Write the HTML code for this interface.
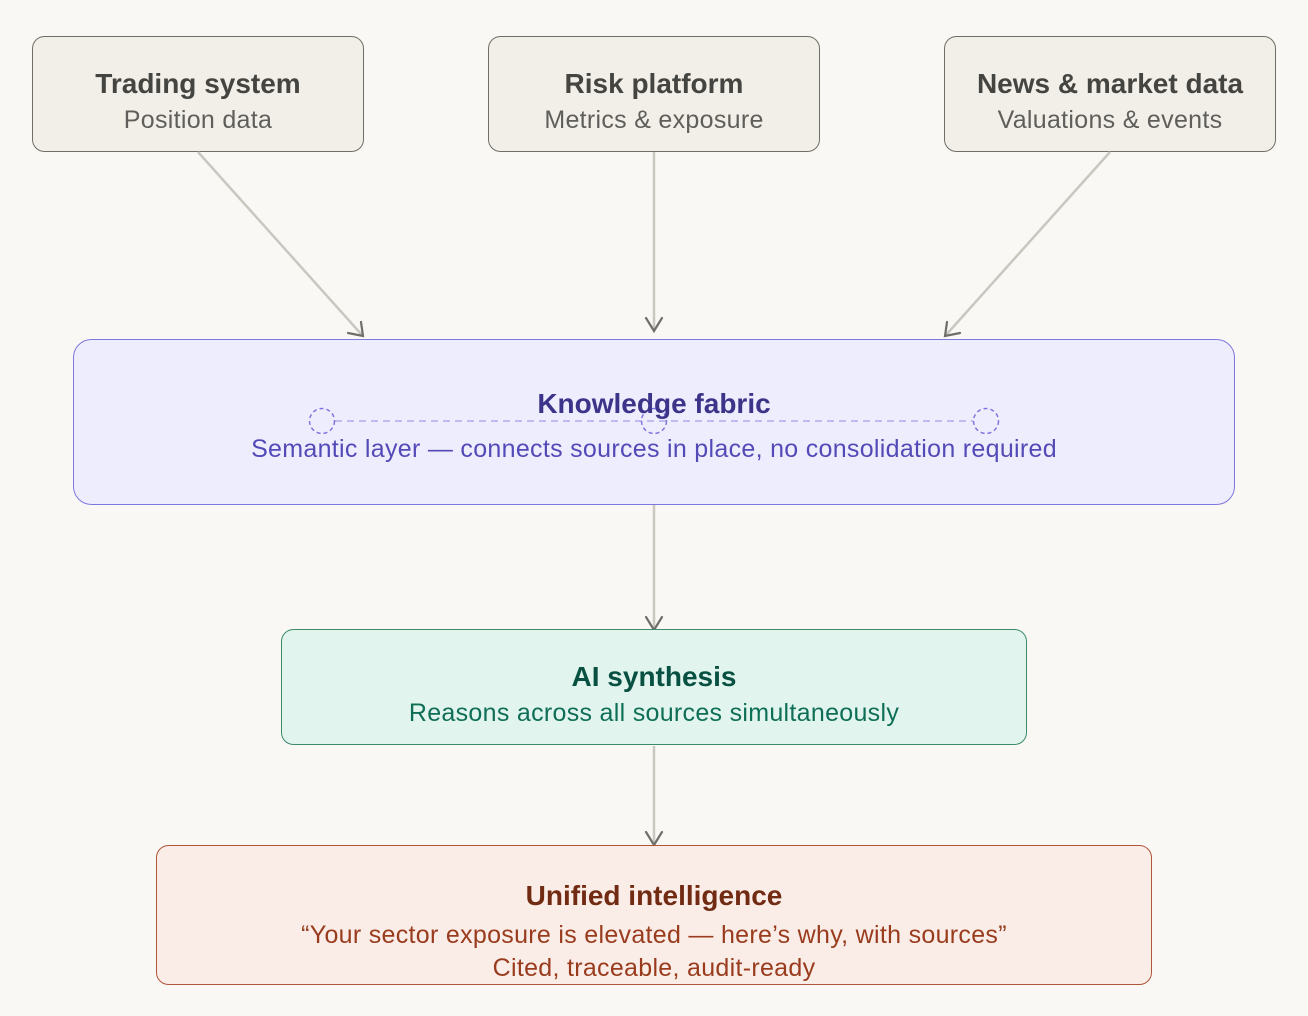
<!DOCTYPE html>
<html><head><meta charset="utf-8"><style>
html,body{margin:0;padding:0;background:#faf8f4;}
svg{display:block}
text{font-family:"Liberation Sans",sans-serif;text-anchor:middle}
.t{font-size:28px;font-weight:bold}
.s{font-size:25px;letter-spacing:0.3px}
</style></head><body>
<svg width="1308" height="1016" viewBox="0 0 1308 1016">
<rect x="0" y="0" width="1308" height="1016" fill="#faf8f4"/>
<g fill="#f1efe8" stroke="#6f6e69" stroke-width="1">
<rect x="32.5" y="36.5" width="331" height="115" rx="12"/>
<rect x="488.5" y="36.5" width="331" height="115" rx="12"/>
<rect x="944.5" y="36.5" width="331" height="115" rx="12"/>
</g>
<g fill="#444441"><text class="t" x="198" y="93">Trading system</text>
<text class="t" x="654" y="93">Risk platform</text>
<text class="t" x="1110" y="93">News &amp; market data</text></g>
<g fill="#5f5e5a"><text class="s" x="198" y="128">Position data</text>
<text class="s" x="654" y="128">Metrics &amp; exposure</text>
<text class="s" x="1110" y="128">Valuations &amp; events</text></g>
<g stroke="#c9c7c0" stroke-width="2.5" fill="none">
<line x1="198" y1="152" x2="362" y2="335"/>
<line x1="654" y1="152" x2="654" y2="330"/>
<line x1="1110" y1="152" x2="946" y2="335"/>
<line x1="654" y1="505" x2="654" y2="628"/>
<line x1="654" y1="746" x2="654" y2="844"/>
</g>
<g stroke="#6f6e69" stroke-width="2.2" fill="none" stroke-linecap="round">
<polyline points="348,333 363,336 361,322"/>
<polyline points="646,318 654,331 662,318"/>
<polyline points="960,333 945,336 947,322"/>
<polyline points="646,617 654,630 662,617"/>
<polyline points="646,832 654,845 662,832"/>
</g>
<rect x="73.5" y="339.5" width="1161" height="165" rx="18" fill="#eeedfe" stroke="#7f77dd" stroke-width="1"/>
<line x1="335" y1="421" x2="973" y2="421" stroke="#afa9ec" stroke-width="1.5" stroke-dasharray="7,5"/>
<g fill="none" stroke="#7f77dd" stroke-width="1.5" stroke-dasharray="4,3">
<circle cx="322" cy="421" r="12.5"/><circle cx="654" cy="421" r="12.5"/><circle cx="986" cy="421" r="12.5"/></g>
<text class="t" x="654" y="413" fill="#3c3489">Knowledge fabric</text>
<text class="s" x="654" y="457" fill="#534ab7">Semantic layer — connects sources in place, no consolidation required</text>
<rect x="281.5" y="629.5" width="745" height="115" rx="12" fill="#e1f5ee" stroke="#3b8a6a" stroke-width="1"/>
<text class="t" x="654" y="686" fill="#085041">AI synthesis</text>
<text class="s" x="654" y="721" fill="#0f6e56">Reasons across all sources simultaneously</text>
<rect x="156.5" y="845.5" width="995" height="139" rx="12" fill="#faece7" stroke="#b0543a" stroke-width="1"/>
<text class="t" x="654" y="905" fill="#712b13">Unified intelligence</text>
<text class="s" x="654" y="943" fill="#993c1d">“Your sector exposure is elevated — here’s why, with sources”</text>
<text class="s" x="654" y="976" fill="#993c1d">Cited, traceable, audit-ready</text>
</svg>
</body></html>
